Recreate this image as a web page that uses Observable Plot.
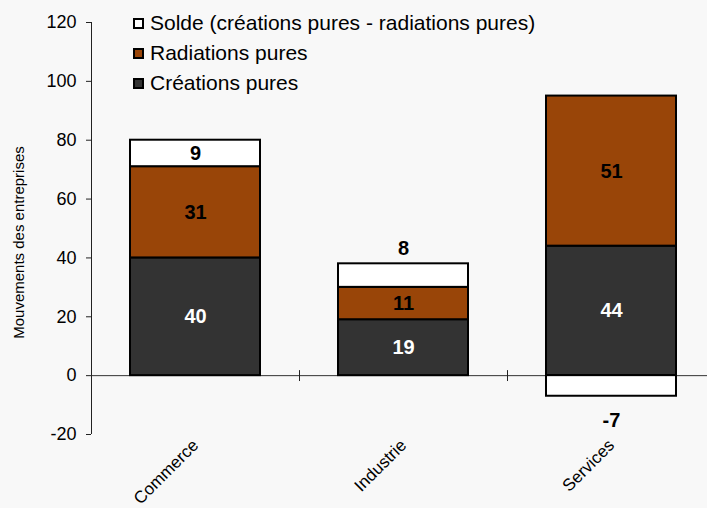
<!DOCTYPE html>
<html><head><meta charset="utf-8">
<script src="https://cdn.jsdelivr.net/npm/d3@7"></script>
<script src="https://cdn.jsdelivr.net/npm/@observablehq/plot@0.6"></script>
<style>
html,body{margin:0;padding:0;background:#f8f8f8;overflow:hidden;width:707px;height:508px}
#wrap{position:relative;width:707px;height:508px;overflow:hidden}
#wrap svg{position:absolute;left:0;top:0;max-width:none !important}
.legend{position:absolute;left:133px;top:0;font-family:"Liberation Sans",Arial,sans-serif;font-size:21px;color:#000}
.item{position:absolute;left:0;white-space:nowrap;display:flex;align-items:center;height:24px}
.sw{width:7px;height:7px;border:2px solid #000;margin-right:6px;box-sizing:content-box}
</style></head>
<body><div id="wrap"></div>
<script>
const categories = ["Commerce", "Industrie", "Services"];
const series = ["Créations pures", "Radiations pures", "Solde (créations pures - radiations pures)"];
const creations = [40, 19, 44];
const radiations = [31, 11, 51];
const solde = [9, 8, -7];
const yTicks = [-20, 0, 20, 40, 60, 80, 100, 120];
const colors = ["#333333", "#994508", "#ffffff"];
const legendOrder = [series[2], series[1], series[0]];

const data = [];
categories.forEach((c, i) => {
  data.push({cat: c, series: series[0], value: creations[i]});
  data.push({cat: c, series: series[1], value: radiations[i]});
  data.push({cat: c, series: series[2], value: solde[i]});
});

const stackOpts = {x: "cat", y: "value", z: "series", order: series, text: d => String(d.value)};
const font = {fontSize: 20, fontWeight: "bold"};

const chart = Plot.plot({
  width: 715,
  height: 508,
  marginLeft: 91,
  marginRight: 0,
  marginTop: 22,
  marginBottom: 74,
  style: {fontFamily: "'Liberation Sans', Arial, sans-serif", background: "transparent", color: "#000", maxWidth: "none"},
  x: {domain: categories, paddingInner: 0.375, paddingOuter: 0.1875, axis: null},
  y: {domain: [-20, 120], axis: null},
  color: {domain: series, range: colors},
  marks: [
    Plot.ruleY([0], {stroke: "#333", strokeWidth: 1}),
    Plot.ruleX([categories[0]], {x: d => d, dx: -104, y1: -20, y2: 120, stroke: "#222", strokeWidth: 1}),
    Plot.ruleX(categories.slice(1), {x: d => d, dx: -104, y1: -2, y2: 1.7, stroke: "#222", strokeWidth: 1}),
    Plot.axisY({ticks: yTicks, tickSize: 5, tickPadding: 10, fontSize: 18, label: null, stroke: "#222", tickFormat: d => String(d)}),
    Plot.axisX({tickRotate: -45, tickSize: 0, tickPadding: 8, fontSize: 17, label: null}),
    Plot.barY(data, {...stackOpts, fill: "series", stroke: "#000", strokeWidth: 2}),
    Plot.text(data, Plot.filter(d => d.series === series[0], Plot.stackY({...stackOpts, fill: "#fff", ...font}))),
    Plot.text(data, Plot.filter(d => d.series === series[1], Plot.stackY({...stackOpts, fill: "#000", ...font}))),
    Plot.text(data, Plot.filter(d => d.series === series[2] && d.cat === "Commerce", Plot.stackY({...stackOpts, fill: "#000", ...font}))),
    Plot.text(data, Plot.filter(d => d.series === series[2] && d.cat === "Industrie", Plot.stackY2({...stackOpts, fill: "#000", dy: -15, ...font}))),
    Plot.text(data, Plot.filter(d => d.series === series[2] && d.cat === "Services", Plot.stackY2({...stackOpts, fill: "#000", dy: 24, ...font}))),
    Plot.text(["Mouvements des entreprises"], {frameAnchor: "left", textAnchor: "middle", rotate: -90, dx: -72, dy: 14, fontSize: 15})
  ]
});

const wrap = document.getElementById("wrap");
wrap.appendChild(chart);

const legend = document.createElement("div");
legend.className = "legend";
legendOrder.forEach((s, i) => {
  const item = document.createElement("div");
  item.className = "item";
  item.style.top = (11 + i * 30) + "px";
  const sw = document.createElement("span");
  sw.className = "sw";
  sw.style.background = colors[series.indexOf(s)];
  const t = document.createElement("span");
  t.textContent = s;
  item.appendChild(sw);
  item.appendChild(t);
  legend.appendChild(item);
});
wrap.appendChild(legend);
</script>
</body></html>
